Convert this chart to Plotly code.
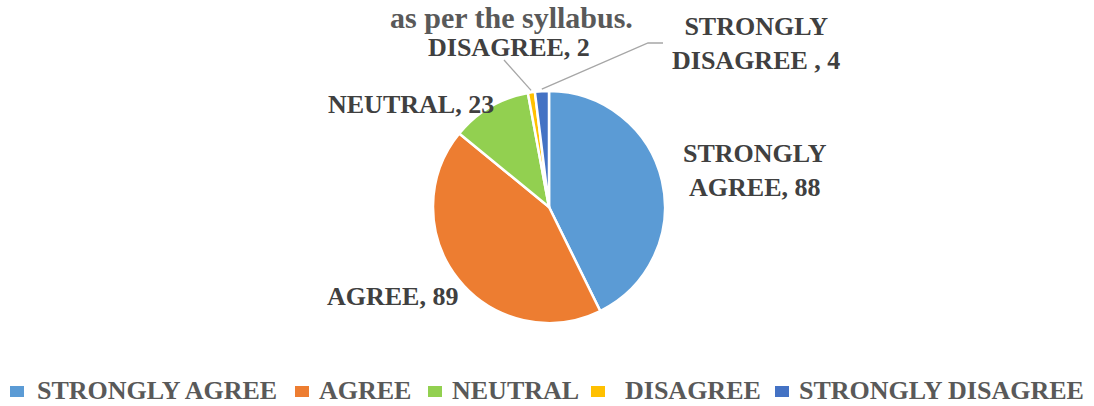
import math
import plotly.graph_objects as go

# data
categories = ["STRONGLY AGREE", "AGREE", "NEUTRAL", "DISAGREE", "STRONGLY DISAGREE"]
counts = [88, 89, 23, 2, 4]
label_text = ["STRONGLY<br>AGREE, 88", "AGREE, 89", "NEUTRAL, 23", "DISAGREE, 2", "STRONGLY<br>DISAGREE , 4"]
colors = ["#5B9BD5", "#ED7D31", "#92D050", "#FFC000", "#4472C4"]

W, H = 1094, 406
CX, CY, R = 549, 207, 116


def px(x, y):
    # pixel -> paper coords (margins are zero)
    return x / W, 1 - y / H


def edge_point(i, extra=0):
    # point on the rim at the middle of slice i (clockwise from 12 o'clock)
    total = sum(counts)
    mid = sum(counts[:i]) + counts[i] / 2
    ang = mid / total * 2 * math.pi
    return CX + (R + extra) * math.sin(ang), CY - (R + extra) * math.cos(ang)


fig = go.Figure()
fig.add_trace(go.Pie(
    labels=categories,
    values=counts,
    sort=False,
    direction="clockwise",
    rotation=0,
    textinfo="none",
    hoverinfo="label+value",
    showlegend=False,
    marker=dict(colors=colors, line=dict(color="white", width=2.5)),
    domain=dict(x=[(CX - R) / W, (CX + R) / W], y=[1 - (CY + R) / H, 1 - (CY - R) / H]),
))

label_font = dict(family="Liberation Serif", size=26, color="#404040", weight="bold")

# data label centres in pixels
label_pos = [(755, 170), (392, 296), (411, 104), (509, 48), (756, 44)]
for txt, (x, y) in zip(label_text, label_pos):
    ax, ay = px(x, y)
    fig.add_annotation(text=txt, x=ax, y=ay, xref="paper", yref="paper",
                       xanchor="center", yanchor="middle",
                       showarrow=False, font=label_font, align="center")

# leader lines for the two thin slices
line_style = dict(color="#A6A6A6", width=1.3)
x0, y0 = edge_point(3, 2)
fig.add_shape(type="line", xref="paper", yref="paper",
              x0=px(x0, y0)[0], y0=px(x0, y0)[1], x1=px(504, 60)[0], y1=px(504, 60)[1], line=line_style)
x0, y0 = edge_point(4, 2)
fig.add_shape(type="path", xref="paper", yref="paper",
              path="M {} {} L {} {} L {} {}".format(*px(x0, y0), *px(648, 43), *px(663, 43)),
              line=line_style)

# legend drawn by hand (Excel-style compact row)
legend_key_x = [10, 295, 428, 591, 775]
legend_text_x = [35, 317, 450, 623, 797]
legend_font = dict(family="Liberation Serif", size=26, color="#595959", weight="bold")
for name, col, kx, tx in zip(categories, colors, legend_key_x, legend_text_x):
    fig.add_shape(type="rect", xref="paper", yref="paper",
                  x0=px(kx, 0)[0], x1=px(kx + 14, 0)[0], y0=px(0, 397)[1], y1=px(0, 386)[1],
                  fillcolor=col, line=dict(width=0))
    fig.add_annotation(text=name, x=px(tx, 0)[0], y=px(0, 390)[1], xref="paper", yref="paper",
                       xanchor="left", yanchor="middle", showarrow=False, font=legend_font)

fig.update_layout(
    width=W, height=H,
    margin=dict(l=0, r=0, t=0, b=0, autoexpand=False),
    paper_bgcolor="white",
    plot_bgcolor="white",
    title=dict(text="as per the syllabus.", x=0.4675, xanchor="center", y=1 - 17 / H, yanchor="middle",
               font=dict(family="Liberation Serif", size=30, color="#595959", weight="bold")),
    showlegend=False,
)

fig.write_html("out.html", config={"displayModeBar": False},
               post_script="document.body.style.margin='0px';")
